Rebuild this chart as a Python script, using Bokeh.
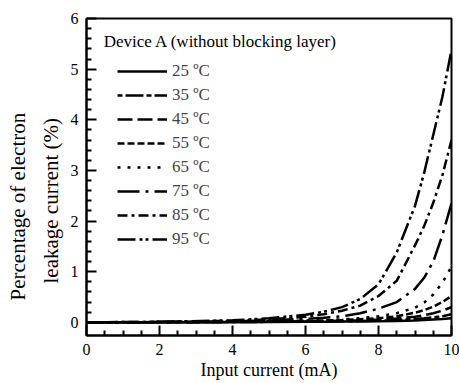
from bokeh.plotting import figure
from bokeh.models import (Range1d, FixedTicker, Legend, LegendItem, Label, Title)
from bokeh.embed import file_html
from bokeh.resources import INLINE

# ---- data ----
x_current = [0, 2, 4, 5, 6, 6.5, 7, 7.5, 8, 8.5, 9, 9.25, 9.5, 9.75, 10]
t25 = [0, 0, 0, 0.005, 0.01, 0.01, 0.015, 0.015, 0.02, 0.025, 0.035, 0.045, 0.055, 0.065, 0.08]
t35 = [0, 0, 0.005, 0.01, 0.015, 0.015, 0.02, 0.025, 0.035, 0.045, 0.065, 0.08, 0.1, 0.12, 0.16]
t45 = [0, 0, 0.01, 0.015, 0.02, 0.025, 0.03, 0.04, 0.055, 0.075, 0.11, 0.14, 0.18, 0.23, 0.3]
t55 = [0, 0.005, 0.01, 0.02, 0.03, 0.035, 0.045, 0.06, 0.08, 0.12, 0.19, 0.24, 0.31, 0.4, 0.52]
t65 = [0, 0.005, 0.01, 0.02, 0.03, 0.04, 0.06, 0.08, 0.12, 0.18, 0.29, 0.39, 0.55, 0.78, 1.1]
t75 = [0, 0.005, 0.02, 0.04, 0.07, 0.09, 0.12, 0.18, 0.27, 0.40, 0.66, 0.88, 1.2, 1.72, 2.35]
t85 = [0, 0.01, 0.03, 0.06, 0.11, 0.16, 0.23, 0.33, 0.52, 0.82, 1.52, 1.9, 2.36, 2.9, 3.6]
t95 = [0, 0.01, 0.04, 0.08, 0.15, 0.21, 0.30, 0.46, 0.75, 1.38, 2.30, 2.95, 3.70, 4.45, 5.38]
series = [t25, t35, t45, t55, t65, t75, t85, t95]
labels = ["25 \u00baC", "35 \u00baC", "45 \u00baC", "55 \u00baC", "65 \u00baC", "75 \u00baC", "85 \u00baC", "95 \u00baC"]
dashes = ["solid", "5 3 18 3", "15 5", "7 3", "3 7", "22 6 3 6", "10 4 3 4", "18 4 3 3 3 4"]
x_ticks = [0, 2, 4, 6, 8, 10]
y_ticks = [0, 1, 2, 3, 4, 5, 6]
legend_title = "Device A (without blocking layer)"
x_title = "Input current (mA)"
y_title_lines = ["Percentage of electron", "leakage current (%)"]

FONT = "Liberation Serif"

p = figure(width=459, height=383, output_backend="svg", toolbar_location=None,
           x_range=Range1d(0, 10), y_range=Range1d(-0.26, 6),
           min_border_left=86, min_border_right=8, min_border_top=18, min_border_bottom=48)
p.grid.visible = False
p.background_fill_color = "white"
p.border_fill_color = "white"
p.outline_line_color = "black"
p.outline_line_width = 2

items = []
for ys, lab, d in zip(series, labels, dashes):
    r = p.line(x_current, ys, line_color="black", line_width=2.5, line_dash=d)
    items.append(LegendItem(label=lab, renderers=[r]))

minor_x = [v / 2 for v in range(0, 21) if v % 4 != 0]
minor_y = [v / 5 for v in range(0, 31) if v % 5 != 0]
p.xaxis.ticker = FixedTicker(ticks=x_ticks, minor_ticks=minor_x)
p.yaxis.ticker = FixedTicker(ticks=y_ticks, minor_ticks=minor_y)

for ax in (p.xaxis, p.yaxis):
    ax.axis_line_width = 2
    ax.major_tick_in = 10
    ax.major_tick_out = 0
    ax.minor_tick_in = 5
    ax.minor_tick_out = 0
    ax.major_tick_line_width = 2
    ax.minor_tick_line_width = 2
    ax.major_label_text_font = FONT
    ax.major_label_text_font_size = "16px"
    ax.major_label_text_color = "black"
    ax.axis_label_text_font = FONT
    ax.axis_label_text_font_size = "18px"
    ax.axis_label_text_font_style = "normal"
    ax.axis_label_text_color = "black"

p.xaxis.axis_label = x_title
p.xaxis.major_label_standoff = 8
p.xaxis.axis_label_standoff = 2
p.yaxis.major_label_standoff = 8

# y-axis title: two rotated lines stacked on the left
p.add_layout(Title(text=y_title_lines[1], align="left", offset=52, text_font=FONT,
                   text_font_size="21px", text_font_style="normal",
                   text_color="black", standoff=10), "left")
p.add_layout(Title(text=y_title_lines[0], align="left", offset=35, text_font=FONT,
                   text_font_size="21px", text_font_style="normal",
                   text_color="black", standoff=4), "left")

legend = Legend(items=items, location=(31, 86), glyph_width=50, glyph_height=20,
                label_height=20, spacing=4, padding=0, margin=0, label_standoff=5,
                label_text_font=FONT, label_text_font_size="17px",
                background_fill_alpha=0, border_line_alpha=0)
p.add_layout(legend, "center")

p.add_layout(Label(x=0.47, y=5.54, text=legend_title,
                   text_font=FONT, text_font_size="17px", text_baseline="middle",
                   text_align="left", text_color="black"))

open("out.html", "w").write(file_html(p, INLINE))
